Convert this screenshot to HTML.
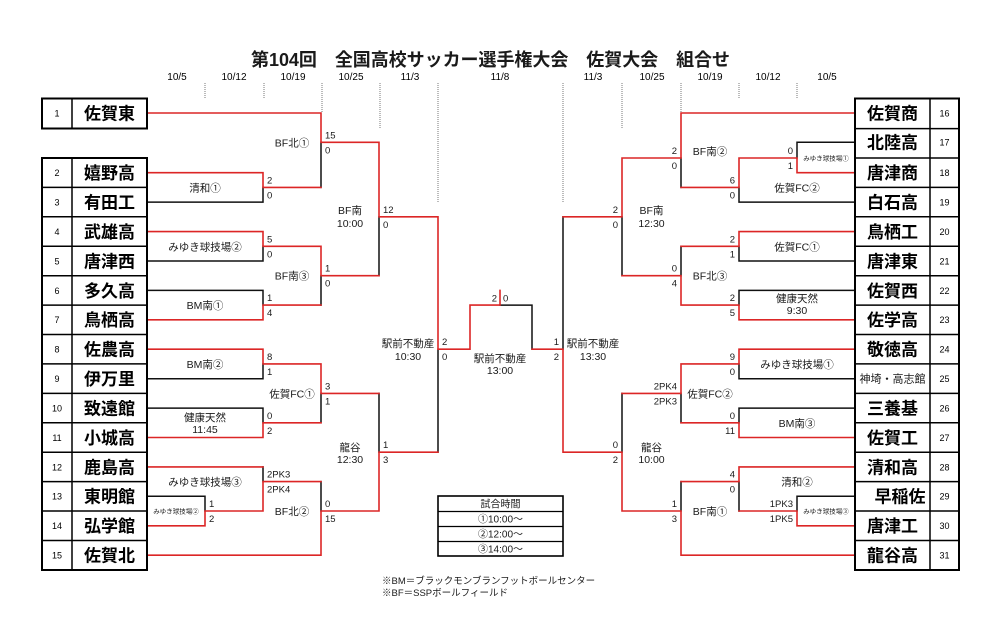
<!DOCTYPE html>
<html><head><meta charset="utf-8">
<style>
html,body{margin:0;padding:0;background:#fff;}
svg{display:block;}
text{font-family:"Liberation Sans","Noto Sans CJK JP",sans-serif;fill:#1a1a1a;}
.tn{font-size:17px;font-weight:bold;text-anchor:middle;fill:#000;}
.no{font-size:9px;text-anchor:middle;fill:#000;}
.sc{font-size:9.5px;}
.scr{font-size:9.5px;text-anchor:end;}
.lb{font-size:10.5px;text-anchor:middle;}
.sm{font-size:6.5px;text-anchor:middle;}
.dt{font-size:10px;text-anchor:middle;fill:#000;}
</style></head>
<body>
<svg width="1000" height="638" viewBox="0 0 1000 638" xmlns="http://www.w3.org/2000/svg">
<rect width="1000" height="638" fill="#fff"/>
<!-- Title -->
<text x="251" y="66" font-size="18" font-weight="bold" fill="#000" textLength="479" lengthAdjust="spacing">第104回　全国高校サッカー選手権大会　佐賀大会　組合せ</text>
<!-- Dates -->
<text class="dt" x="177" y="80">10/5</text>
<text class="dt" x="234" y="80">10/12</text>
<text class="dt" x="293" y="80">10/19</text>
<text class="dt" x="351" y="80">10/25</text>
<text class="dt" x="410" y="80">11/3</text>
<text class="dt" x="500" y="80">11/8</text>
<text class="dt" x="593" y="80">11/3</text>
<text class="dt" x="652" y="80">10/25</text>
<text class="dt" x="710" y="80">10/19</text>
<text class="dt" x="768" y="80">10/12</text>
<text class="dt" x="827" y="80">10/5</text>
<!-- Dotted guides -->
<g stroke="#777" stroke-width="1" stroke-dasharray="1,1" fill="none">
<path d="M205 83V99M264 83V99M322 83V113M380 83V128M438 83V202M563 83V202M622 83V128M681 83V113M739 83V99M797 83V99"/>
</g>
<!-- Black bracket lines -->
<g stroke="#111" stroke-width="1.5" fill="none" stroke-linecap="square">
<path d="M321 142.3V187.4M147 202.1H263V187.4M147 261H263V246.3M321 275.7V305.1M147 290.4H263V305.1M379 216.8V275.7M438 349.2V452.2M147 378.7H263V363.9M321 393.4V422.8M147 408.1H263V422.8M379 393.4V452.2M263 466.9V481.6M147 496.3H205V511M321 481.6V511"/>
<path d="M500 305.1H532V349.2"/>
<path d="M681 158V187.4M855 142.3H797V158M739 187.4V202.1M855 202.1H739M622 216.8V275.7M563 216.8V349.2M855 261H739V246.3M681 246.3V275.7M855 290.4H739V305.1M855 378.7H739V363.9M681 393.4V422.8M855 408.1H739V422.8M622 393.4V452.2M855 496.3H797V511M739 481.6V511M681 481.6V511"/>
</g>
<!-- Red bracket lines -->
<g stroke="#dc2626" stroke-width="1.6" fill="none" stroke-linecap="square">
<path d="M147 113H321V142.3H379V216.8H438V349.2H470V305.1H500V290.4"/>
<path d="M147 172.7H263V187.4H321"/>
<path d="M147 231.6H263V246.3H321V275.7H379"/>
<path d="M147 319.8H263V305.1H321"/>
<path d="M147 349.2H263V363.9H321V393.4H379"/>
<path d="M147 437.5H263V422.8H321"/>
<path d="M147 466.9H263"/>
<path d="M147 525.8H205V511H263V481.6H321"/>
<path d="M147 555.2H321V511H379V452.2H438"/>
<path d="M532 349.2H563V452.2H622V511H681V555.2H855"/>
<path d="M855 113H681V158H622V216.8H563"/>
<path d="M855 172.7H797V158H739V187.4H681"/>
<path d="M855 231.6H739V246.3H681"/>
<path d="M855 319.8H739V305.1H681V275.7H622"/>
<path d="M855 349.2H739V363.9H681V393.4H622"/>
<path d="M855 437.5H739V422.8H681"/>
<path d="M855 466.9H739V481.6H681"/>
<path d="M855 525.8H797V511H739"/>
</g>

<!-- Team boxes left -->
<g stroke="#000" fill="none">
<rect x="42" y="98.5" width="105" height="30" stroke-width="2"/>
<line x1="72" y1="98.5" x2="72" y2="128.5" stroke-width="1.5"/>
<rect x="42" y="158" width="105" height="412" stroke-width="2"/>
<line x1="72" y1="158" x2="72" y2="570" stroke-width="1.5"/>
<path stroke-width="1.5" d="M42 187.4H147M42 216.8H147M42 246.3H147M42 275.7H147M42 305.1H147M42 334.5H147M42 363.9H147M42 393.4H147M42 422.8H147M42 452.2H147M42 481.6H147M42 511H147M42 540.5H147"/>
<!-- right -->
<rect x="855" y="98.5" width="104" height="471.5" stroke-width="2"/>
<line x1="930" y1="98.5" x2="930" y2="570" stroke-width="1.5"/>
<path stroke-width="1.5" d="M855 128.6H959M855 158H959M855 187.4H959M855 216.8H959M855 246.3H959M855 275.7H959M855 305.1H959M855 334.5H959M855 363.9H959M855 393.4H959M855 422.8H959M855 452.2H959M855 481.6H959M855 511H959M855 540.5H959"/>
</g>

<!-- Left team numbers & names -->
<g>
<text class="no" x="57" y="116.5">1</text><text class="tn" x="109.5" y="119.5">佐賀東</text>
<text class="no" x="57" y="176">2</text><text class="tn" x="109.5" y="179">嬉野高</text>
<text class="no" x="57" y="205.5">3</text><text class="tn" x="109.5" y="208.5">有田工</text>
<text class="no" x="57" y="235">4</text><text class="tn" x="109.5" y="238">武雄高</text>
<text class="no" x="57" y="264.5">5</text><text class="tn" x="109.5" y="267.5">唐津西</text>
<text class="no" x="57" y="293.8">6</text><text class="tn" x="109.5" y="296.8">多久高</text>
<text class="no" x="57" y="323.2">7</text><text class="tn" x="109.5" y="326.2">鳥栖高</text>
<text class="no" x="57" y="352.6">8</text><text class="tn" x="109.5" y="355.6">佐農高</text>
<text class="no" x="57" y="382">9</text><text class="tn" x="109.5" y="385">伊万里</text>
<text class="no" x="57" y="411.5">10</text><text class="tn" x="109.5" y="414.5">致遠館</text>
<text class="no" x="57" y="441">11</text><text class="tn" x="109.5" y="444">小城高</text>
<text class="no" x="57" y="470.3">12</text><text class="tn" x="109.5" y="473.3">鹿島高</text>
<text class="no" x="57" y="499.7">13</text><text class="tn" x="109.5" y="502.7">東明館</text>
<text class="no" x="57" y="529.2">14</text><text class="tn" x="109.5" y="532.2">弘学館</text>
<text class="no" x="57" y="558.6">15</text><text class="tn" x="109.5" y="561.6">佐賀北</text>
</g>
<!-- Right team numbers & names -->
<g>
<text class="no" x="944.5" y="116.5">16</text><text class="tn" x="892.5" y="119.5">佐賀商</text>
<text class="no" x="944.5" y="145.7">17</text><text class="tn" x="892.5" y="148.7">北陸高</text>
<text class="no" x="944.5" y="176">18</text><text class="tn" x="892.5" y="179">唐津商</text>
<text class="no" x="944.5" y="205.5">19</text><text class="tn" x="892.5" y="208.5">白石高</text>
<text class="no" x="944.5" y="235">20</text><text class="tn" x="892.5" y="238">鳥栖工</text>
<text class="no" x="944.5" y="264.5">21</text><text class="tn" x="892.5" y="267.5">唐津東</text>
<text class="no" x="944.5" y="293.8">22</text><text class="tn" x="892.5" y="296.8">佐賀西</text>
<text class="no" x="944.5" y="323.2">23</text><text class="tn" x="892.5" y="326.2">佐学高</text>
<text class="no" x="944.5" y="352.6">24</text><text class="tn" x="892.5" y="355.6">敬徳高</text>
<text class="no" x="944.5" y="382">25</text><text x="892.5" y="382.5" font-size="11" text-anchor="middle">神埼・高志館</text>
<text class="no" x="944.5" y="411.5">26</text><text class="tn" x="892.5" y="414.5">三養基</text>
<text class="no" x="944.5" y="441">27</text><text class="tn" x="892.5" y="444">佐賀工</text>
<text class="no" x="944.5" y="470.3">28</text><text class="tn" x="892.5" y="473.3">清和高</text>
<text class="no" x="944.5" y="499.7">29</text><text class="tn" x="900" y="502.7">早稲佐</text>
<text class="no" x="944.5" y="529.2">30</text><text class="tn" x="892.5" y="532.2">唐津工</text>
<text class="no" x="944.5" y="558.6">31</text><text class="tn" x="892.5" y="561.6">龍谷高</text>
</g>

<!-- Left scores -->
<g class="sc">
<text class="sc" x="325" y="138.3">15</text><text class="sc" x="325" y="153.3">0</text>
<text class="sc" x="267" y="183.4">2</text><text class="sc" x="267" y="198.4">0</text>
<text class="sc" x="383" y="212.8">12</text><text class="sc" x="383" y="227.8">0</text>
<text class="sc" x="267" y="242.3">5</text><text class="sc" x="267" y="257.3">0</text>
<text class="sc" x="325" y="271.7">1</text><text class="sc" x="325" y="286.7">0</text>
<text class="sc" x="267" y="301.1">1</text><text class="sc" x="267" y="316.1">4</text>
<text class="sc" x="442" y="345.2">2</text><text class="sc" x="442" y="360.2">0</text>
<text class="sc" x="267" y="359.9">8</text><text class="sc" x="267" y="374.9">1</text>
<text class="sc" x="325" y="389.4">3</text><text class="sc" x="325" y="404.4">1</text>
<text class="sc" x="267" y="418.8">0</text><text class="sc" x="267" y="433.8">2</text>
<text class="sc" x="383" y="448.2">1</text><text class="sc" x="383" y="463.2">3</text>
<text class="sc" x="267" y="477.6">2PK3</text><text class="sc" x="267" y="492.6">2PK4</text>
<text class="sc" x="209" y="507">1</text><text class="sc" x="209" y="522">2</text>
<text class="sc" x="325" y="507">0</text><text class="sc" x="325" y="522">15</text>
</g>
<!-- Final scores -->
<text class="scr" x="497" y="301.5">2</text>
<text class="sc" x="503" y="301.5">0</text>
<!-- Right scores -->
<g>
<text class="scr" x="677" y="154">2</text><text class="scr" x="677" y="169">0</text>
<text class="scr" x="793" y="154">0</text><text class="scr" x="793" y="169">1</text>
<text class="scr" x="735" y="183.4">6</text><text class="scr" x="735" y="198.4">0</text>
<text class="scr" x="618" y="212.8">2</text><text class="scr" x="618" y="227.8">0</text>
<text class="scr" x="735" y="242.3">2</text><text class="scr" x="735" y="257.3">1</text>
<text class="scr" x="677" y="271.7">0</text><text class="scr" x="677" y="286.7">4</text>
<text class="scr" x="735" y="301.1">2</text><text class="scr" x="735" y="316.1">5</text>
<text class="scr" x="559" y="345.2">1</text><text class="scr" x="559" y="360.2">2</text>
<text class="scr" x="735" y="359.9">9</text><text class="scr" x="735" y="374.9">0</text>
<text class="scr" x="677" y="389.4">2PK4</text><text class="scr" x="677" y="404.4">2PK3</text>
<text class="scr" x="735" y="418.8">0</text><text class="scr" x="735" y="433.8">11</text>
<text class="scr" x="618" y="448.2">0</text><text class="scr" x="618" y="463.2">2</text>
<text class="scr" x="735" y="477.6">4</text><text class="scr" x="735" y="492.6">0</text>
<text class="scr" x="793" y="507">1PK3</text><text class="scr" x="793" y="522">1PK5</text>
<text class="scr" x="677" y="507">1</text><text class="scr" x="677" y="522">3</text>
</g>

<!-- Left match labels -->
<text class="lb" x="205" y="191.4">清和①</text>
<text class="lb" x="205" y="250.3">みゆき球技場②</text>
<text class="lb" x="205" y="309.1">BM南①</text>
<text class="lb" x="292" y="146.3">BF北①</text>
<text class="lb" x="292" y="279.7">BF南③</text>
<text class="lb" x="350" y="214">BF南</text>
<text class="lb" x="350" y="227">10:00</text>
<text class="lb" x="408" y="347">駅前不動産</text>
<text class="lb" x="408" y="360">10:30</text>
<text class="lb" x="205" y="367.9">BM南②</text>
<text class="lb" x="292" y="397.4">佐賀FC①</text>
<text class="lb" x="205" y="421">健康天然</text>
<text class="lb" x="205" y="433">11:45</text>
<text class="lb" x="350" y="451">龍谷</text>
<text class="lb" x="350" y="463">12:30</text>
<text class="lb" x="205" y="485.6">みゆき球技場③</text>
<text class="sm" x="176" y="513.5">みゆき球技場②</text>
<text class="lb" x="292" y="515">BF北②</text>
<!-- Center -->
<text class="lb" x="500" y="362">駅前不動産</text>
<text class="lb" x="500" y="374">13:00</text>
<!-- Right match labels -->
<text class="lb" x="710" y="155">BF南②</text>
<text class="sm" x="826" y="160.5">みゆき球技場①</text>
<text class="lb" x="797" y="191.4">佐賀FC②</text>
<text class="lb" x="651.5" y="214">BF南</text>
<text class="lb" x="651.5" y="227">12:30</text>
<text class="lb" x="797" y="250.3">佐賀FC①</text>
<text class="lb" x="710" y="279.7">BF北③</text>
<text class="lb" x="797" y="302">健康天然</text>
<text class="lb" x="797" y="314">9:30</text>
<text class="lb" x="593" y="347">駅前不動産</text>
<text class="lb" x="593" y="360">13:30</text>
<text class="lb" x="797" y="367.9">みゆき球技場①</text>
<text class="lb" x="710" y="397.4">佐賀FC②</text>
<text class="lb" x="797" y="426.8">BM南③</text>
<text class="lb" x="651.5" y="451">龍谷</text>
<text class="lb" x="651.5" y="463">10:00</text>
<text class="lb" x="797" y="485.6">清和②</text>
<text class="lb" x="710" y="515">BF南①</text>
<text class="sm" x="826" y="513.5">みゆき球技場③</text>

<!-- Legend box -->
<g stroke="#000" fill="none">
<rect x="438" y="496" width="125" height="60" stroke-width="1.6"/>
<path stroke-width="1.2" d="M438 511.5H563M438 526.5H563M438 541.5H563"/>
</g>
<text x="500.5" y="507.5" font-size="10" text-anchor="middle">試合時間</text>
<text x="500.5" y="522.5" font-size="10" text-anchor="middle">①10:00～</text>
<text x="500.5" y="537.5" font-size="10" text-anchor="middle">②12:00～</text>
<text x="500.5" y="552.5" font-size="10" text-anchor="middle">③14:00～</text>

<!-- Footnotes -->
<text x="382" y="584" font-size="9.5">※BM＝ブラックモンブランフットボールセンター</text>
<text x="382" y="596" font-size="9.5">※BF＝SSPボールフィールド</text>
</svg>
</body></html>
